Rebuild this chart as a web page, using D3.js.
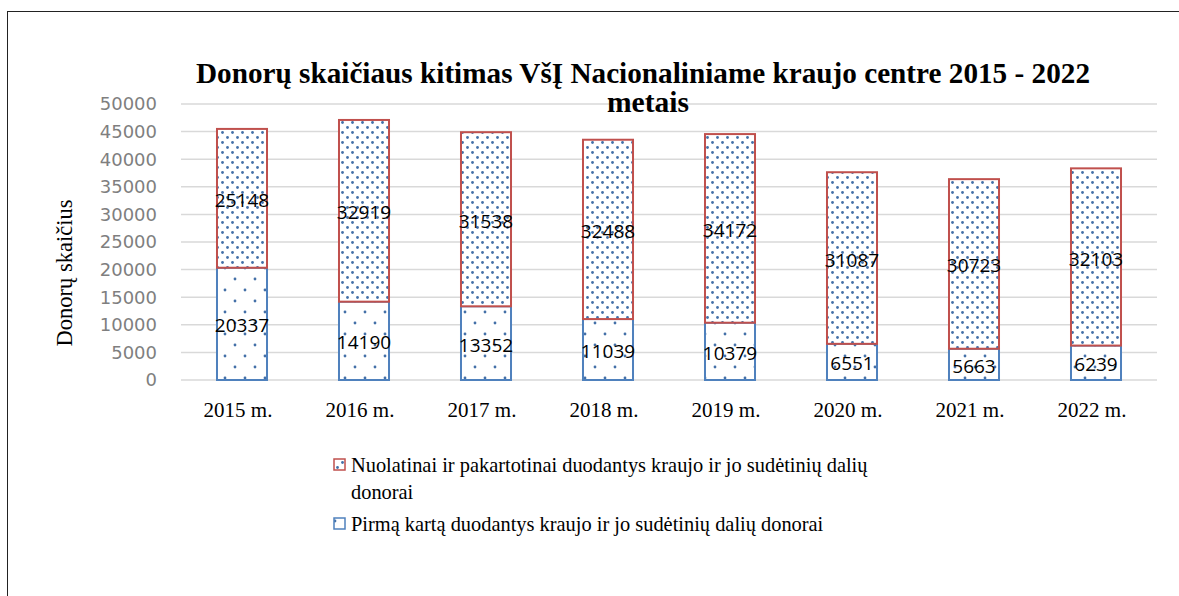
<!DOCTYPE html>
<html>
<head>
<meta charset="utf-8">
<script src="https://cdn.jsdelivr.net/npm/d3@7"></script>
<style>
  body { margin: 0; background: #fff; }
</style>
</head>
<body>
<script>
const width = 1179;
const height = 596;

// data
const years = ['2015 m.', '2016 m.', '2017 m.', '2018 m.', '2019 m.', '2020 m.', '2021 m.', '2022 m.'];
const firstTime = [20337, 14190, 13352, 11039, 10379, 6551, 5663, 6239];
const repeat = [25148, 32919, 31538, 32488, 34172, 31087, 30723, 32103];
const seriesNames = ['Pirmą kartą duodantys kraujo ir jo sudėtinių dalių donorai',
                     'Nuolatinai ir pakartotinai duodantys kraujo ir jo sudėtinių dalių donorai'];
const yTicks = [0, 5000, 10000, 15000, 20000, 25000, 30000, 35000, 40000, 45000, 50000];

const svg = d3.select('body').append('svg')
    .attr('width', width)
    .attr('height', height);

// frame
svg.append('rect')
    .attr('x', 7.5).attr('y', 11.5)
    .attr('width', width + 10).attr('height', height + 10)
    .attr('fill', 'none').attr('stroke', '#222').attr('stroke-width', 1);

const defs = svg.append('defs');
// dense dots for the top series
const pd = defs.append('pattern').attr('id', 'dense')
    .attr('patternUnits', 'userSpaceOnUse').attr('width', 10).attr('height', 10);
pd.append('rect').attr('width', 10).attr('height', 10).attr('fill', '#fff');
pd.append('circle').attr('cx', 2.5).attr('cy', 2.5).attr('r', 1.4).attr('fill', '#4470a8');
pd.append('circle').attr('cx', 7.5).attr('cy', 7.5).attr('r', 1.4).attr('fill', '#4470a8');
// sparse dots for the bottom series
const ps = defs.append('pattern').attr('id', 'sparse')
    .attr('patternUnits', 'userSpaceOnUse').attr('width', 20).attr('height', 22);
ps.append('rect').attr('width', 20).attr('height', 22).attr('fill', '#fff');
ps.append('circle').attr('cx', 5).attr('cy', 4).attr('r', 1.4).attr('fill', '#4470a8');
ps.append('circle').attr('cx', 15).attr('cy', 15).attr('r', 1.4).attr('fill', '#4470a8');

const x = d3.scaleBand().domain(years).range([181, 1157]).paddingInner(0.59).paddingOuter(0.295);
const y = d3.scaleLinear().domain([0, 50000]).range([380, 104]);

// gridlines
svg.append('g').selectAll('line').data(yTicks).enter().append('line')
    .attr('x1', 181).attr('x2', 1157)
    .attr('y1', d => y(d)).attr('y2', d => y(d))
    .attr('stroke', '#d9d9d9').attr('stroke-width', 1.5);

// y tick labels
svg.append('g').selectAll('text').data(yTicks).enter().append('text')
    .attr('x', 157).attr('y', d => y(d)).attr('dy', '0.35em')
    .attr('text-anchor', 'end')
    .attr('font-family', 'DejaVu Sans').attr('font-size', 18).attr('fill', '#7f7f7f')
    .text(d => d);

const rows = years.map((yr, i) => ({ yr: yr, a: firstTime[i], b: repeat[i] }));
const stack = d3.stack().keys(['a', 'b'])(rows);
const fills = ['url(#sparse)', 'url(#dense)'];
const strokes = ['#4f81bd', '#c0504d'];

stack.forEach((layer, k) => {
  const g = svg.append('g');
  g.selectAll('rect').data(layer).enter().append('rect')
      .attr('x', d => x(d.data.yr))
      .attr('width', x.bandwidth())
      .attr('y', d => y(d[1]))
      .attr('height', d => y(d[0]) - y(d[1]))
      .attr('fill', fills[k])
      .attr('stroke', strokes[k]).attr('stroke-width', 2);
});

// data labels
stack.forEach((layer) => {
  svg.append('g').selectAll('text').data(layer).enter().append('text')
      .attr('x', d => x(d.data.yr) + x.bandwidth() / 2)
      .attr('y', d => y((d[0] + d[1]) / 2)).attr('dy', '0.45em')
      .attr('text-anchor', 'middle')
      .attr('font-family', 'Open Sans').attr('font-size', 19).attr('fill', '#000')
      .text(d => d[1] - d[0]);
});

// x labels
svg.append('g').selectAll('text').data(years).enter().append('text')
    .attr('x', d => x(d) + x.bandwidth() / 2 - 4).attr('y', 417)
    .attr('text-anchor', 'middle')
    .attr('font-family', 'Liberation Serif').attr('font-size', 21).attr('fill', '#000')
    .text(d => d);

// title
const title = svg.append('text')
    .attr('text-anchor', 'middle')
    .attr('font-family', 'Liberation Serif').attr('font-weight', 'bold')
    .attr('font-size', 29).attr('fill', '#000');
title.append('tspan').attr('x', 643).attr('y', 83)
    .attr('textLength', 894).attr('lengthAdjust', 'spacingAndGlyphs')
    .text('Donorų skaičiaus kitimas VšĮ Nacionaliniame kraujo centre 2015 - 2022');
title.append('tspan').attr('x', 648).attr('y', 112)
    .attr('textLength', 82).attr('lengthAdjust', 'spacingAndGlyphs')
    .text('metais');

// y axis title
svg.append('text')
    .attr('transform', 'translate(72,273) rotate(-90)')
    .attr('text-anchor', 'middle')
    .attr('font-family', 'Liberation Serif').attr('font-size', 22.5).attr('fill', '#000')
    .text('Donorų skaičius');

// legend
const legend = [
  { lines: ['Nuolatinai ir pakartotinai duodantys kraujo ir jo sudėtinių dalių', 'donorai'], fill: 'url(#dense)', stroke: strokes[1], y: 472 },
  { lines: [seriesNames[0]], fill: 'url(#sparse)', stroke: strokes[0], y: 531 }
];
legend.forEach(l => {
  svg.append('rect')
      .attr('x', 334).attr('y', l.y - 13).attr('width', 11).attr('height', 11)
      .attr('fill', l.fill).attr('stroke', l.stroke).attr('stroke-width', 1.5);
  const t = svg.append('text')
      .attr('font-family', 'Liberation Serif').attr('font-size', 20.4).attr('fill', '#000');
  l.lines.forEach((ln, i) => {
    t.append('tspan').attr('x', 351).attr('y', l.y + i * 27).text(ln);
  });
});
</script>
</body>
</html>
